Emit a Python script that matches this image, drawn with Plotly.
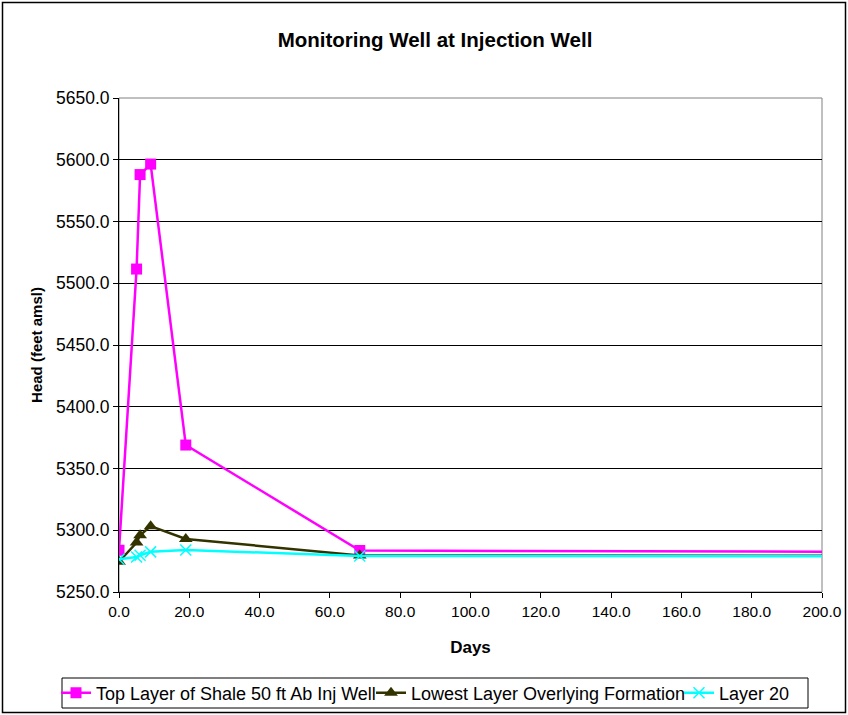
import plotly.graph_objects as go

# Data
days = [0, 5, 6, 9, 19, 68.5, 365]
top_shale = [5283.8, 5511.5, 5588.0, 5596.5, 5369.0, 5283.6, 5281.3]
lowest_layer = [5274.5, 5290.0, 5296.0, 5303.3, 5293.0, 5279.6, 5279.2]
layer20 = [5276.5, 5278.4, 5279.8, 5282.5, 5284.0, 5279.2, 5278.6]

series_names = ["Top Layer of Shale 50 ft Ab Inj Well",
                "Lowest Layer Overlying Formation",
                "Layer 20"]

x_ticks = [0, 20, 40, 60, 80, 100, 120, 140, 160, 180, 200]
y_ticks = [5250, 5300, 5350, 5400, 5450, 5500, 5550, 5600, 5650]

FONT = "Liberation Sans, Arial, sans-serif"

fig = go.Figure()
fig.add_trace(go.Scatter(
    x=days, y=top_shale, name=series_names[0], mode="lines+markers",
    line=dict(color="#FF00FF", width=2.5),
    marker=dict(symbol="square", size=11, color="#FF00FF"),
    legend="legend",
))
fig.add_trace(go.Scatter(
    x=days, y=lowest_layer, name=series_names[1], mode="lines+markers",
    line=dict(color="#333300", width=2.5),
    marker=dict(symbol="triangle-up", size=12, color="#333300"),
    legend="legend2",
))
fig.add_trace(go.Scatter(
    x=days, y=layer20, name=series_names[2], mode="lines+markers",
    line=dict(color="#00FFFF", width=2.5),
    marker=dict(symbol="x-thin", size=11, color="#00FFFF",
                line=dict(color="#00FFFF", width=1.5)),
    legend="legend3",
))

W, H = 848, 715
ml, mr, mt, mb = 119, 26, 98, 123
pw, ph = W - ml - mr, H - mt - mb

def px_x(p):
    return (p - ml) / pw

def px_y(p):
    return (H - mb - p) / ph

shapes = [
    # plot area border (grey)
    dict(type="rect", xref="paper", yref="paper", x0=0, x1=1, y0=0, y1=1,
         line=dict(color="#808080", width=1), layer="below"),
    # outer chart frame
    dict(type="rect", xref="paper", yref="paper",
         x0=px_x(2.5), x1=px_x(845.5), y0=px_y(712.5), y1=px_y(2.5),
         line=dict(color="#000000", width=1.5)),
    # legend box
    dict(type="rect", xref="paper", yref="paper",
         x0=px_x(62), x1=px_x(808), y0=px_y(708), y1=px_y(678),
         line=dict(color="#000000", width=1), fillcolor="white", layer="below"),
]

def legend_at(px_left):
    return dict(orientation="h", xanchor="left", x=px_x(px_left),
                yanchor="middle", y=px_y(693),
                borderwidth=0, bgcolor="rgba(0,0,0,0)",
                font=dict(size=18, family=FONT), itemwidth=30)

fig.update_layout(
    width=W, height=H,
    margin=dict(l=ml, r=mr, t=mt, b=mb, autoexpand=False),
    paper_bgcolor="white", plot_bgcolor="white",
    font=dict(family=FONT, color="#000000", size=14),
    title=dict(text="<b>Monitoring Well at Injection Well</b>",
               x=px_x(435), xanchor="center", xref="paper",
               y=1 - 40 / H, yanchor="middle",
               font=dict(size=20.5, family=FONT)),
    shapes=shapes,
    showlegend=True,
    legend=legend_at(56),
    legend2=legend_at(371),
    legend3=legend_at(679),
)

fig.update_xaxes(
    range=[0, 200], tickvals=x_ticks, tickformat=".1f",
    showgrid=False, zeroline=False, automargin=False,
    showline=True, linecolor="#000000", linewidth=1,
    ticks="outside", ticklen=5, tickcolor="#000000",
    tickfont=dict(size=15.5, family=FONT),
    title=dict(text="<b>Days</b>", font=dict(size=17, family=FONT), standoff=22),
)
fig.update_yaxes(
    range=[5250, 5650], tickvals=y_ticks, tickformat=".1f",
    showgrid=True, gridcolor="#000000", gridwidth=1, zeroline=False,
    automargin=False,
    showline=True, linecolor="#000000", linewidth=1,
    ticks="outside", ticklen=5, tickcolor="#000000",
    tickfont=dict(size=17.5, family=FONT),
    title=dict(text="<b>Head (feet amsl)</b>", font=dict(size=15, family=FONT), standoff=9),
)

fig.write_html("out.html",
               config={"displayModeBar": False},
               post_script="document.body.style.margin='0';document.body.style.padding='0';")
